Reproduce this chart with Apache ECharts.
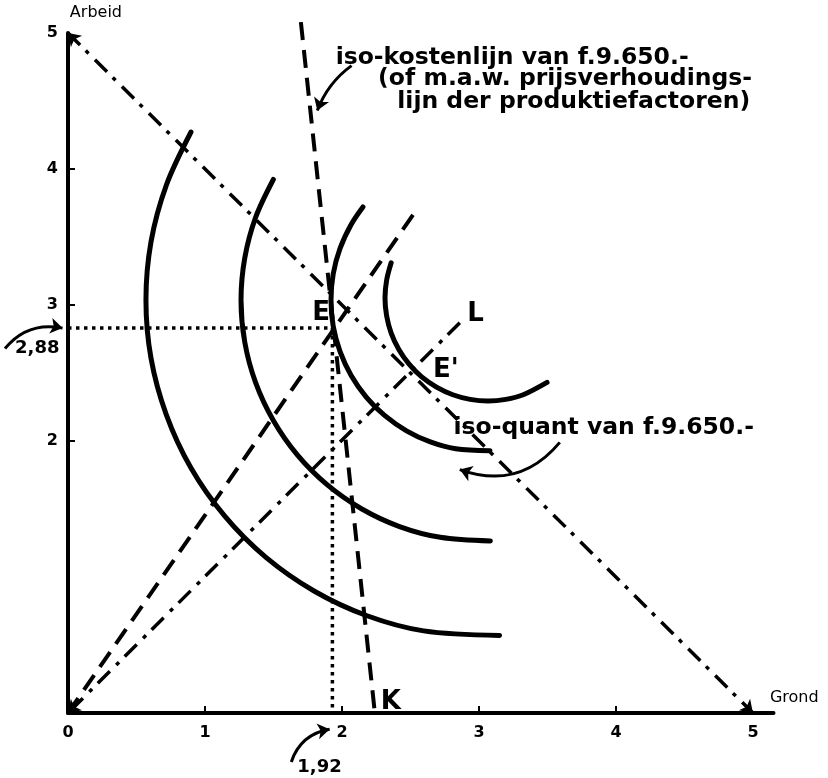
<!DOCTYPE html>
<html>
<head>
<meta charset="utf-8">
<script src="https://cdn.jsdelivr.net/npm/echarts@6/dist/echarts.min.js"></script>
<style>
    html, body { margin: 0; padding: 0; background: #fff; }
    #main { width: 828px; height: 778px; }
</style>
</head>
<body>
<div id="main"></div>
<script>
// 数据
var xTickValues = [1, 2, 3, 4]
var xLabelValues = [0, 1, 2, 3, 4, 5]
var yTickValues = [1, 2, 3, 4]
var yLabelValues = [1, 2, 3, 4, 5]

var pointE = [1.93, 2.83]
var budgetLine = [[0, 5], [5, 0]]
var isoCostLine = [[1.70, 5.08], [2.24, 0]]
var expansionPath = [[0, 0], [2.53, 3.68]]
var lineL = [[2.86, 2.87], [0, 0]]

// iso-quants, van buiten naar binnen
var arc1 = [[0.898, 4.272], [0.718, 3.882], [0.606, 3.465], [0.569, 3.037], [0.606, 2.608], [0.718, 2.192], [0.898, 1.801], [1.143, 1.449], [1.445, 1.144], [1.796, 0.897], [2.183, 0.715], [2.596, 0.604], [3.150, 0.570]]
var arc2 = [[1.499, 3.923], [1.369, 3.643], [1.290, 3.344], [1.263, 3.037], [1.290, 2.729], [1.369, 2.431], [1.499, 2.151], [1.674, 1.898], [1.891, 1.679], [2.142, 1.502], [2.420, 1.371], [2.717, 1.292], [3.083, 1.265]]
var arc3 = [[2.153, 3.721], [2.067, 3.592], [1.986, 3.416], [1.936, 3.229], [1.920, 3.037], [1.936, 2.844], [1.986, 2.657], [2.067, 2.482], [2.177, 2.323], [2.313, 2.186], [2.471, 2.075], [2.645, 1.993], [2.830, 1.943], [3.080, 1.928]]
var arc4 = [[2.359, 3.310], [2.326, 3.183], [2.314, 3.051], [2.326, 2.920], [2.359, 2.793], [2.415, 2.673], [2.490, 2.565], [2.582, 2.471], [2.690, 2.396], [2.809, 2.340], [2.935, 2.306], [3.066, 2.294], [3.196, 2.306], [3.323, 2.340], [3.497, 2.431]]

// aantekeningen
var bigTexts = [
    {name: 'iso-kostenlijn van f.9.650.-', value: [1.95, 4.82]},
    {name: '(of m.a.w. prijsverhoudings-', value: [2.26, 4.66]},
    {name: 'lijn der produktiefactoren)', value: [2.40, 4.49]},
    {name: 'iso-quant van f.9.650.-', value: [2.81, 2.10]},
]
var pointTexts = [
    {name: 'E', value: [1.78, 2.94]},
    {name: "E'", value: [2.66, 2.52]},
    {name: 'L', value: [2.91, 2.93]},
    {name: 'K', value: [2.28, 0.08]},
]
var valueTexts = [
    {name: '2,88', value: [-0.39, 2.68]},
    {name: '1,92', value: [1.67, -0.40]},
]
var axisTexts = [
    {name: 'Arbeid', value: [0.01, 5.145]},
    {name: 'Grond', value: [5.12, 0.11]},
]
var arrows = [
    {coords: [[-0.46, 2.68], [-0.04, 2.83]], curve: 0.3},
    {coords: [[1.63, -0.36], [1.91, -0.12]], curve: 0.3},
    {coords: [[2.07, 4.76], [1.82, 4.43]], curve: -0.15},
    {coords: [[3.59, 1.99], [2.86, 1.79]], curve: 0.35},
]

var element = document.querySelector('#main')
var myChart = echarts.init(element)

var font = 'DejaVu Sans'
var dashDot = [17, 8, 4, 9]

var arcSeries = (data) => {
    return {
        type: 'line',
        data: data,
        smooth: 0.33,
        symbol: 'none',
        clip: false,
        lineStyle: {color: '#000', width: 5, cap: 'round'},
    }
}

var plainLine = (data, dash, width) => {
    return {
        type: 'line',
        data: data,
        symbol: 'none',
        clip: false,
        lineStyle: {color: '#000', width: width, type: dash},
    }
}

var arrowLines = (data, symbol, dash, width) => {
    return {
        type: 'lines',
        coordinateSystem: 'cartesian2d',
        clip: false,
        symbol: symbol,
        symbolSize: 12,
        lineStyle: {color: '#000', opacity: 1, width: width, type: dash},
        data: data,
    }
}

var textSeries = (data, size, weight) => {
    return {
        type: 'scatter',
        data: data,
        symbolSize: 1,
        clip: false,
        itemStyle: {color: 'transparent', opacity: 1},
        label: {
            show: true,
            position: 'right',
            distance: 0,
            formatter: '{b}',
            color: '#000',
            opacity: 1,
            fontFamily: font,
            fontSize: size,
            fontWeight: weight,
        },
    }
}

var option = {
    backgroundColor: '#fff',
    animation: false,
    grid: {left: 68, right: 54.5, top: 33, bottom: 65},
    xAxis: {
        type: 'value',
        min: 0,
        max: 5.15,
        interval: 1,
        splitLine: {show: false},
        axisLine: {lineStyle: {color: '#000', width: 4}},
        axisTick: {inside: true, length: 7, customValues: xTickValues, lineStyle: {color: '#000', width: 2}},
        axisLabel: {
            customValues: xLabelValues,
            margin: 12,
            color: '#000',
            fontFamily: font,
            fontWeight: 'bold',
            fontSize: 16,
            formatter: (v) => Number.isInteger(v) ? String(v) : '',
        },
    },
    yAxis: {
        type: 'value',
        min: 0,
        max: 5,
        interval: 1,
        splitLine: {show: false},
        axisLine: {lineStyle: {color: '#000', width: 4}},
        axisTick: {inside: true, length: 7, customValues: yTickValues, lineStyle: {color: '#000', width: 2}},
        axisLabel: {
            customValues: yLabelValues,
            showMinLabel: false,
            margin: 10,
            color: '#000',
            fontFamily: font,
            fontWeight: 'bold',
            fontSize: 16,
        },
    },
    series: [
        arcSeries(arc1),
        arcSeries(arc2),
        arcSeries(arc3),
        arcSeries(arc4),
        plainLine(isoCostLine, [18, 10], 4),
        plainLine(expansionPath, [18, 10], 4),
        plainLine([[0, pointE[1]], pointE], [3.5, 4.5], 3.5),
        plainLine([pointE, [pointE[0], 0]], [3.5, 4.5], 3.5),
        arrowLines([{coords: budgetLine}], ['arrow', 'arrow'], dashDot, 3.5),
        arrowLines([{coords: lineL}], ['none', 'arrow'], dashDot, 3.5),
        arrowLines(arrows.map((a) => {
            return {coords: a.coords, lineStyle: {curveness: a.curve}}
        }), ['none', 'arrow'], 'solid', 3),
        textSeries(bigTexts, 23.5, 'bold'),
        textSeries(pointTexts, 26, 'bold'),
        textSeries(valueTexts, 18, 'bold'),
        textSeries(axisTexts, 16, 'normal'),
    ],
}

// 入口
var __main = () => {
    myChart.setOption(option)
}

__main()
</script>
</body>
</html>
